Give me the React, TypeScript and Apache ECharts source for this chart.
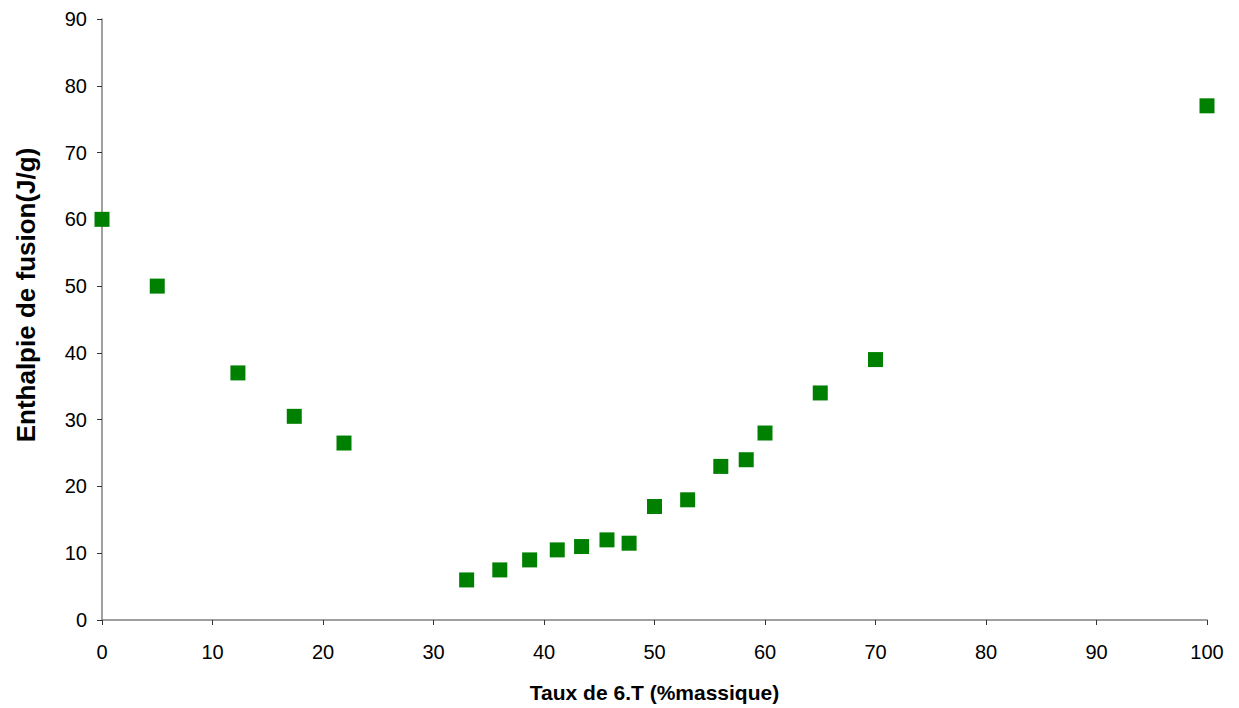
import React, { useEffect, useRef } from "react";
import * as echarts from "echarts";

const xValues = [0, 5, 12.3, 17.4, 21.9, 33, 36, 38.7, 41.2, 43.4, 45.7, 47.7, 50, 53, 56, 58.3, 60, 65, 70, 100];
const yValues = [60, 50, 37, 30.5, 26.5, 6, 7.5, 9, 10.5, 11, 12, 11.5, 17, 18, 23, 24, 28, 34, 39, 77];
const xTitle = "Taux de 6.T (%massique)";
const yTitle = "Enthalpie de fusion(J/g)";

const FONT = "Liberation Sans, Arial, sans-serif";

export default function App() {
  const ref = useRef<HTMLDivElement>(null);
  useEffect(() => {
    if (!ref.current) return;
    const chart = echarts.init(ref.current, null, { renderer: "svg" });
    const axisCommon = {
      axisLine: { show: true, onZero: false, lineStyle: { color: "#808080", width: 1.5 } },
      axisTick: { show: true, length: 5, inside: false, lineStyle: { color: "#333", width: 1 } },
      axisLabel: { color: "#000", fontSize: 20, fontFamily: FONT },
      splitLine: { show: false },
    };
    chart.setOption({
      animation: false,
      backgroundColor: "#fff",
      grid: { left: 102, right: 32, top: 19, bottom: 87, containLabel: false },
      xAxis: {
        type: "value",
        min: 0,
        max: 100,
        interval: 10,
        name: xTitle,
        nameLocation: "middle",
        nameGap: 62,
        nameTextStyle: { color: "#000", fontSize: 21, fontWeight: "bold", fontFamily: FONT },
        ...axisCommon,
        axisLabel: { ...axisCommon.axisLabel, margin: 22 },
      },
      yAxis: {
        type: "value",
        min: 0,
        max: 90,
        interval: 10,
        ...axisCommon,
        axisLabel: { ...axisCommon.axisLabel, margin: 15 },
      },
      graphic: [
        {
          type: "text",
          x: 26,
          y: 295,
          rotation: Math.PI / 2,
          style: {
            text: yTitle,
            fill: "#000",
            fontSize: 26,
            fontWeight: "bold",
            fontFamily: FONT,
            align: "center",
            verticalAlign: "middle",
          },
        },
      ],
      series: [
        {
          type: "scatter",
          symbol: "rect",
          symbolSize: 15,
          itemStyle: { color: "#008000", opacity: 1 },
          data: xValues.map((x, i) => [x, yValues[i]]),
        },
      ],
    });
    return () => chart.dispose();
  }, []);
  return <div ref={ref} style={{ position: "absolute", left: 0, top: 0, width: 1239, height: 708 }} />;
}
